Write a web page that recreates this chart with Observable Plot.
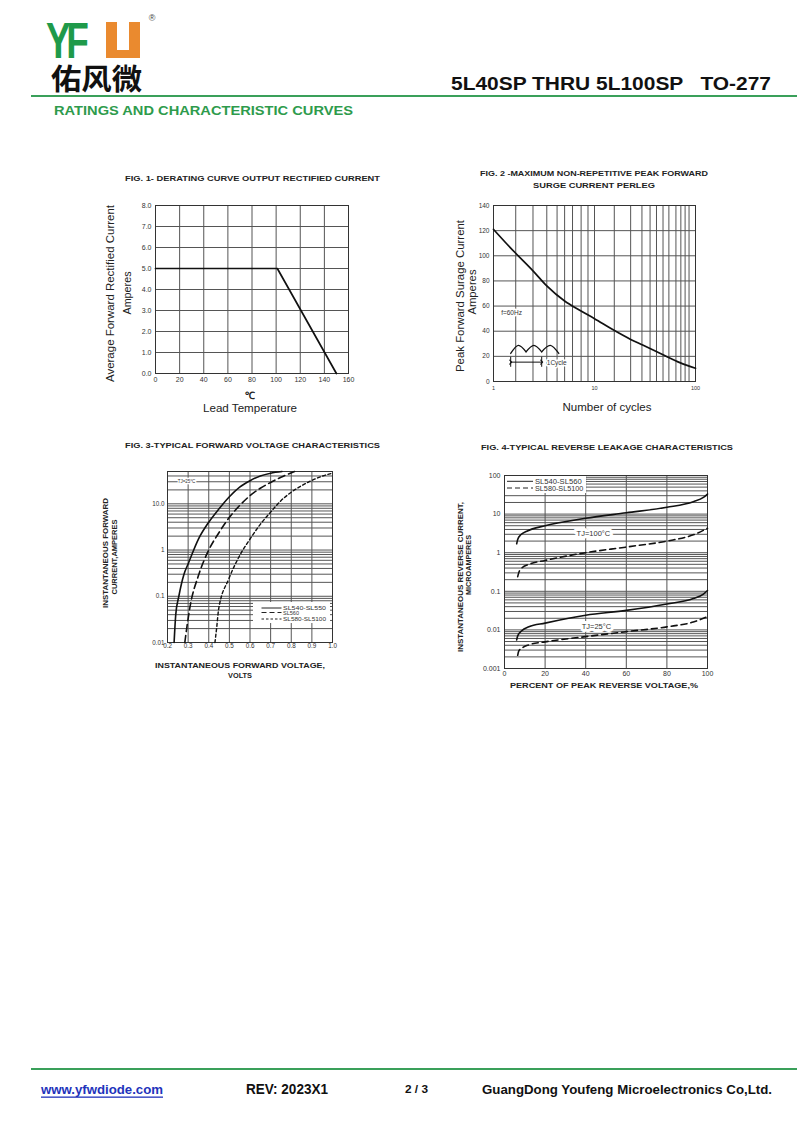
<!DOCTYPE html>
<html><head><meta charset="utf-8">
<script src="https://cdn.jsdelivr.net/npm/d3@7"></script>
<script src="https://cdn.jsdelivr.net/npm/@observablehq/plot@0.6"></script>
<style>
body{margin:0;background:#fff;}
#page{position:relative;width:800px;height:1130px;overflow:hidden;background:#fff;}
#overlay{position:absolute;left:0;top:0;z-index:5;}
</style></head><body><div id="page"></div>
<script>
// ---------------- DATA ----------------
// Fig 1 derating curve
const fig1Temp = [0, 101, 150];
const fig1Amps = [5.0, 5.0, 0.0];
const fig1XTicks = [0, 20, 40, 60, 80, 100, 120, 140, 160];
const fig1YTicks = [0, 1, 2, 3, 4, 5, 6, 7, 8];

// Fig 2 surge current
const fig2Cycles = [1, 1.3, 1.66, 2.46, 3.37, 5.06, 7, 10, 15, 22.8, 30, 50, 70, 100];
const fig2Amps   = [121, 111, 102, 88, 76, 64, 57, 50, 41.5, 33.5, 29, 20.5, 15, 10.5];
const fig2XTicks = [1, 10, 100];
const fig2YTicks = [0, 20, 40, 60, 80, 100, 120, 140];
const fig2GridX  = [1.66, 2.46, 3.37, 4.26, 5.06, 6.06, 7.37, 8.62, 10, 15.7, 22.8, 29.5, 35.5, 41.1, 47.7, 54.5, 64, 71.6, 78.9, 86.3];
// Fig 2 annotation (waveform icon, 1 cycle arrow)
const fig2WaveHump = ["a","a","a","b","b","b","c","c","c"];
const fig2WaveX = [1.48, 1.76, 2.1, 2.1, 2.51, 3.0, 3.0, 3.65, 4.43];
const fig2WaveY = [22.3, 28.8, 23.6, 23.6, 28.8, 23.6, 23.6, 28.8, 22.3];
const fig2ArrowX = [1.48, 3.0];
const fig2ArrowY = 15.4;

// Fig 3 forward voltage
const fig3V1 = [0.232, 0.24, 0.255, 0.28, 0.3, 0.35, 0.4, 0.45, 0.5, 0.55, 0.6, 0.65, 0.7, 0.755];
const fig3I1 = [0.01, 0.04, 0.1, 0.3, 0.5, 1.73, 4.0, 7.8, 14.2, 23, 31.6, 40, 46, 50];
const fig3V2 = [0.284, 0.29, 0.31, 0.35, 0.4, 0.45, 0.5, 0.55, 0.6, 0.65, 0.7, 0.75, 0.816];
const fig3I2 = [0.01, 0.016, 0.062, 0.28, 1.0, 2.4, 5.1, 9.2, 15, 21.7, 29, 37.6, 50];
const fig3V3 = [0.43, 0.438, 0.448, 0.497, 0.545, 0.6, 0.65, 0.7, 0.75, 0.8, 0.85, 0.9, 0.95, 1.0];
const fig3I3 = [0.01, 0.02, 0.053, 0.236, 0.69, 1.73, 3.6, 6.6, 11.7, 17.8, 24.7, 32, 39.6, 46];
const fig3XTicks = [0.2, 0.3, 0.4, 0.5, 0.6, 0.7, 0.8, 0.9, 1.0];
const fig3YTicks = [0.01, 0.1, 1, 10, 50];
const fig3YLabels = ["0.01", "0.1", "1", "10.0", "50"];

// Fig 4 reverse leakage
const fig4S100X = [6, 6.5, 8, 11, 20, 40, 60, 80, 93, 98, 100];
const fig4S100Y = [1.7, 2.2, 2.9, 3.6, 5.0, 7.8, 10.8, 15, 21, 27, 33];
const fig4D100X = [6.5, 7, 8.5, 12, 20, 40, 60, 80, 93, 100];
const fig4D100Y = [0.24, 0.3, 0.4, 0.5, 0.63, 1.0, 1.4, 2.0, 2.9, 4.3];
const fig4S25X = [6, 6.5, 8.5, 12, 20, 40, 60, 80, 93, 98, 100];
const fig4S25Y = [0.0055, 0.007, 0.0095, 0.012, 0.015, 0.024, 0.032, 0.047, 0.065, 0.085, 0.105];
const fig4D25X = [6.5, 7, 9, 12, 20, 40, 60, 80, 93, 100];
const fig4D25Y = [0.0022, 0.0028, 0.0035, 0.0041, 0.0049, 0.0067, 0.009, 0.012, 0.016, 0.022];
const fig4XTicks = [0, 20, 40, 60, 80, 100];
const fig4YTicks = [0.001, 0.01, 0.1, 1, 10, 100];
const fig4YLabels = ["0.001", "0.01", "0.1", "1", "10", "100"];

// log grid helpers (tick positions)
const gridMult = [1, 2, 3, 4, 5, 6, 7, 8, 9];
const fig3Decades = [0.01, 0.1, 1, 10];
const fig4Decades = [0.001, 0.01, 0.1, 1, 10];

// ---------------- DRAW ----------------
const FONT = "'Liberation Sans', Arial, Helvetica, sans-serif";
const NARROW = "'Liberation Sans Narrow', 'Arial Narrow', 'Liberation Sans', Arial, sans-serif";
const page = document.getElementById("page");
const GRID = "#555";
function place(svg, left, top) {
  svg.style.position = "absolute";
  svg.style.left = left + "px";
  svg.style.top = top + "px";
  page.appendChild(svg);
}
const baseStyle = (fs) => ({fontFamily: FONT, fontSize: fs, color: "#333", background: "transparent", overflow: "visible"});

// Fig 1: frame x 155..348, y 205..373
place(Plot.plot({
  width: 243, height: 190, marginLeft: 30, marginRight: 20, marginTop: 7, marginBottom: 15,
  style: baseStyle("7px"),
  x: {domain: [0, 160]}, y: {domain: [0, 8]},
  marks: [
    Plot.gridX(fig1XTicks, {stroke: GRID, strokeOpacity: 1}),
    Plot.gridY(fig1YTicks, {stroke: GRID, strokeOpacity: 1}),
    Plot.frame({stroke: "#333"}),
    Plot.axisX(fig1XTicks, {tickSize: 0, tickPadding: 4, label: null}),
    Plot.axisY(fig1YTicks, {tickSize: 0, tickPadding: 4, label: null, tickFormat: d => d.toFixed(1)}),
    Plot.line(fig1Temp, {x: fig1Temp, y: fig1Amps, stroke: "#111", strokeWidth: 1.7})
  ]
}), 125, 198);

// Fig 2: frame x 493..695, y 205..381
const waveIdx = d3.range(fig2WaveX.length);
place(Plot.plot({
  width: 242, height: 198, marginLeft: 25, marginRight: 15, marginTop: 7, marginBottom: 15,
  style: baseStyle("6.5px"),
  x: {type: "log", domain: [1, 100]}, y: {domain: [0, 140]},
  marks: [
    Plot.gridX(fig2GridX, {stroke: GRID, strokeOpacity: 1}),
    Plot.gridY(fig2YTicks, {stroke: GRID, strokeOpacity: 1}),
    Plot.frame({stroke: "#333"}),
    Plot.axisX(fig2XTicks, {tickSize: 0, tickPadding: 5, label: null, tickFormat: d => String(d), fontSize: 5.5}),
    Plot.axisY(fig2YTicks, {tickSize: 0, tickPadding: 4, label: null}),
    Plot.line(fig2Cycles, {x: fig2Cycles, y: fig2Amps, stroke: "#111", strokeWidth: 1.7, curve: "monotone-x"}),
    Plot.text(["f=60Hz"], {x: 1.19, y: 54.6, text: d => d, textAnchor: "start", fontSize: 6.5, fill: "#333", stroke: "white", strokeWidth: 3}),
    Plot.line(waveIdx, {x: i => fig2WaveX[i], y: i => fig2WaveY[i], z: i => fig2WaveHump[i], curve: "natural", stroke: "#111", strokeWidth: 1.3}),
    Plot.ruleX(fig2ArrowX, {y1: 11.3, y2: 19.3, stroke: "#111", strokeWidth: 1}),
    Plot.link([0], {x1: fig2ArrowX[0], x2: fig2ArrowX[1], y1: fig2ArrowY, y2: fig2ArrowY, stroke: "#111", strokeWidth: 1, markerStart: "arrow", markerEnd: "arrow"}),
    Plot.text(["1Cycle"], {x: 3.37, y: 14.5, text: d => d, textAnchor: "start", fontSize: 6.5, fill: "#333", stroke: "white", strokeWidth: 3})
  ]
}), 468, 198);

// Fig 3: frame x 167..332, y 471..642
const fig3Grid = fig3Decades.flatMap(d => gridMult.map(m => +(d * m).toPrecision(3))).filter(v => v <= 50).concat([50]);
const fig3Lab = new Map(fig3YTicks.map((t, i) => [t, fig3YLabels[i]]));
place(Plot.plot({
  width: 202, height: 194, marginLeft: 25, marginRight: 12, marginTop: 8, marginBottom: 15,
  style: baseStyle("6.3px"),
  x: {domain: [0.2, 1.0]}, y: {type: "log", domain: [0.01, 50]},
  marks: [
    Plot.gridX(fig3XTicks, {stroke: GRID, strokeOpacity: 1}),
    Plot.gridY(fig3Grid, {stroke: GRID, strokeOpacity: 1}),
    Plot.frame({stroke: "#333"}),
    Plot.axisX(fig3XTicks, {tickSize: 0, tickPadding: 1, label: null, tickFormat: d => d.toFixed(1)}),
    Plot.axisY(fig3YTicks, {tickSize: 0, tickPadding: 3, label: null, tickFormat: d => fig3Lab.get(d)}),
    Plot.line(fig3V1, {x: fig3V1, y: fig3I1, stroke: "#111", strokeWidth: 1.6, curve: "monotone-x"}),
    Plot.line(fig3V2, {x: fig3V2, y: fig3I2, stroke: "#111", strokeWidth: 1.6, strokeDasharray: "7,4", curve: "monotone-x"}),
    Plot.line(fig3V3, {x: fig3V3, y: fig3I3, stroke: "#111", strokeWidth: 1.4, strokeDasharray: "3,2.5", curve: "monotone-x"}),
    Plot.text(["TJ=25°C"], {x: 0.292, y: 30.4, text: d => d, textAnchor: "middle", fontSize: 4.5, fill: "#333", stroke: "white", strokeWidth: 2.5})
  ]
}), 142, 463);

// Fig 4: frame x 504..707, y 475..668
const fig4Grid = fig4Decades.flatMap(d => gridMult.map(m => +(d * m).toPrecision(3))).concat([100]);
const fig4Lab = new Map(fig4YTicks.map((t, i) => [t, fig4YLabels[i]]));
place(Plot.plot({
  width: 243, height: 219, marginLeft: 28, marginRight: 12, marginTop: 8, marginBottom: 18,
  style: baseStyle("7px"),
  x: {domain: [0, 100]}, y: {type: "log", domain: [0.001, 100]},
  marks: [
    Plot.gridX(fig4XTicks, {stroke: GRID, strokeOpacity: 1}),
    Plot.gridY(fig4Grid, {stroke: GRID, strokeOpacity: 1}),
    Plot.frame({stroke: "#333"}),
    Plot.axisX(fig4XTicks, {tickSize: 0, tickPadding: 3, label: null}),
    Plot.axisY(fig4YTicks, {tickSize: 0, tickPadding: 4, label: null, tickFormat: d => fig4Lab.get(d)}),
    Plot.line(fig4S100X, {x: fig4S100X, y: fig4S100Y, stroke: "#111", strokeWidth: 1.6, curve: "monotone-x"}),
    Plot.line(fig4D100X, {x: fig4D100X, y: fig4D100Y, stroke: "#111", strokeWidth: 1.6, strokeDasharray: "6,4", curve: "monotone-x"}),
    Plot.line(fig4S25X, {x: fig4S25X, y: fig4S25Y, stroke: "#111", strokeWidth: 1.6, curve: "monotone-x"}),
    Plot.line(fig4D25X, {x: fig4D25X, y: fig4D25Y, stroke: "#111", strokeWidth: 1.6, strokeDasharray: "6,4", curve: "monotone-x"}),
    Plot.text(["TJ=100°C"], {x: 43.8, y: 3.14, text: d => d, textAnchor: "middle", fontSize: 7.5, fill: "#333", stroke: "white", strokeWidth: 6}),
    Plot.text(["TJ=25°C"], {x: 45.3, y: 0.0123, text: d => d, textAnchor: "middle", fontSize: 7.5, fill: "#333", stroke: "white", strokeWidth: 6})
  ]
}), 476, 467);

// ---------------- OVERLAY TEXT ----------------
const ov = d3.select("#page").append("svg").attr("id", "overlay").attr("width", 800).attr("height", 1130);
function txt(x, y, s, o = {}) {
  const t = ov.append("text").attr("x", x).attr("y", y).text(s)
    .attr("font-family", o.ff || FONT).attr("font-size", o.fs || 8)
    .attr("font-weight", o.fw || "normal").attr("fill", o.fill || "#222")
    .attr("text-anchor", o.anchor || "start").attr("dominant-baseline", o.base || "central")
    .style("white-space", "pre");
  if (o.len) t.attr("textLength", o.len).attr("lengthAdjust", "spacingAndGlyphs");
  if (o.rot) t.attr("transform", `rotate(-90 ${x} ${y})`);
  if (o.tf) t.attr("transform", o.tf);
  if (o.ls) t.attr("letter-spacing", o.ls);
  if (o.deco) t.attr("text-decoration", o.deco);
  return t;
}
// header logo
txt(0, 0, "YF", {fs: 50, fw: "bold", fill: "#1f9a4a", base: "alphabetic", ls: -6, tf: "translate(46,58) scale(0.74,1)"});
ov.append("path").attr("d", "M106,22 H117 V50 H129 V22 H140 V58 H106 Z").attr("fill", "#ea8a2f");
txt(152, 18, "®", {fs: 9, fill: "#444", anchor: "middle"});
txt(51, 77, "佑风微", {ff: "'Noto Sans CJK SC', sans-serif", fs: 29, fw: "bold", fill: "#111", len: 91});
txt(451, 83, "5L40SP THRU 5L100SP   TO-277", {ff: NARROW, fs: 19, fw: "bold", fill: "#111", len: 320});
ov.append("line").attr("x1", 31).attr("x2", 797).attr("y1", 96).attr("y2", 96).attr("stroke", "#3aa05a").attr("stroke-width", 2);
txt(54, 110, "RATINGS AND CHARACTERISTIC CURVES", {ff: NARROW, fs: 13, fw: "bold", fill: "#2e9b4c", len: 299});
// footer
ov.append("line").attr("x1", 31).attr("x2", 797).attr("y1", 1069).attr("y2", 1069).attr("stroke", "#3aa05a").attr("stroke-width", 2);
txt(41, 1089, "www.yfwdiode.com", {ff: NARROW, fs: 13, fw: "bold", fill: "#2233bb", len: 122, deco: "underline"});
txt(246, 1089, "REV: 2023X1", {ff: NARROW, fs: 14, fw: "bold", fill: "#111", len: 82});
txt(405, 1089, "2 / 3", {ff: NARROW, fs: 11, fw: "bold", fill: "#111", len: 23});
txt(482, 1089, "GuangDong Youfeng Microelectronics Co,Ltd.", {ff: NARROW, fs: 13, fw: "bold", fill: "#111", len: 290});
// chart titles
txt(252.5, 178, "FIG. 1- DERATING CURVE OUTPUT RECTIFIED CURRENT", {fs: 7.5, fw: "bold", anchor: "middle", len: 255});
txt(594, 173, "FIG. 2 -MAXIMUM NON-REPETITIVE PEAK FORWARD", {fs: 7.5, fw: "bold", anchor: "middle", len: 228});
txt(594, 185, "SURGE CURRENT PERLEG", {fs: 7.5, fw: "bold", anchor: "middle", len: 122});
txt(252.5, 445, "FIG. 3-TYPICAL FORWARD VOLTAGE CHARACTERISTICS", {fs: 7.5, fw: "bold", anchor: "middle", len: 255});
txt(607, 447, "FIG. 4-TYPICAL REVERSE LEAKAGE CHARACTERISTICS", {fs: 7.5, fw: "bold", anchor: "middle", len: 252});
// axis labels fig 1
txt(110, 293.5, "Average Forward Rectified Current", {fs: 10, anchor: "middle", len: 177, rot: true});
txt(127, 293, "Amperes", {fs: 10, anchor: "middle", len: 43, rot: true});
txt(250, 395, "℃", {fs: 10, fw: "bold", anchor: "middle"});
txt(250, 408, "Lead Temperature", {fs: 10, anchor: "middle", len: 94});
// fig 2
txt(460, 296, "Peak Forward Surage Current", {fs: 10, anchor: "middle", len: 152, rot: true});
txt(472, 292, "Amperes", {fs: 10, anchor: "middle", len: 45, rot: true});
txt(607, 407, "Number of cycles", {fs: 10, anchor: "middle", len: 89});
// fig 3
txt(105, 553, "INSTANTANEOUS FORWARD", {fs: 7, fw: "bold", anchor: "middle", len: 110, rot: true});
txt(114, 557, "CURRENT,AMPERES", {fs: 7, fw: "bold", anchor: "middle", len: 75, rot: true});
txt(240, 665, "INSTANTANEOUS FORWARD VOLTAGE,", {fs: 7.5, fw: "bold", anchor: "middle", len: 170});
txt(240, 675, "VOLTS", {fs: 7.5, fw: "bold", anchor: "middle", len: 24});
// fig 4
txt(460, 577, "INSTANTANEOUS REVERSE CURRENT,", {fs: 7.5, fw: "bold", anchor: "middle", len: 150, rot: true});
txt(468, 565, "MICROAMPERES", {fs: 7.5, fw: "bold", anchor: "middle", len: 60, rot: true});
txt(604, 685, "PERCENT OF PEAK REVERSE VOLTAGE,%", {fs: 8, fw: "bold", anchor: "middle", len: 188});
// legends
function legLine(x1, x2, y, dash) {
  ov.append("line").attr("x1", x1).attr("x2", x2).attr("y1", y).attr("y2", y)
    .attr("stroke", "#222").attr("stroke-width", 1).attr("stroke-dasharray", dash || null);
}
ov.append("rect").attr("x", 253).attr("y", 602).attr("width", 77).attr("height", 21).attr("fill", "white");
legLine(261.5, 281.5, 608, null);
legLine(261.5, 281.5, 612.5, "5,3");
legLine(261.5, 281.5, 619, "2.5,2");
txt(283, 608, "SL540-SL550", {fs: 5.5, fill: "#333", len: 43});
txt(283, 612.7, "SL560", {fs: 5.5, fill: "#333", len: 16});
txt(283, 619, "SL580-SL5100", {fs: 5.5, fill: "#333", len: 43});

ov.append("rect").attr("x", 505).attr("y", 476).attr("width", 81).attr("height", 17).attr("fill", "white");
legLine(507, 533, 481.3, null);
legLine(507, 533, 488, "5,3");
txt(535, 481.3, "SL540-SL560", {fs: 7, fill: "#333", len: 46.7});
txt(535, 488, "SL580-SL5100", {fs: 7, fill: "#333", len: 48.3});
</script></body></html>
